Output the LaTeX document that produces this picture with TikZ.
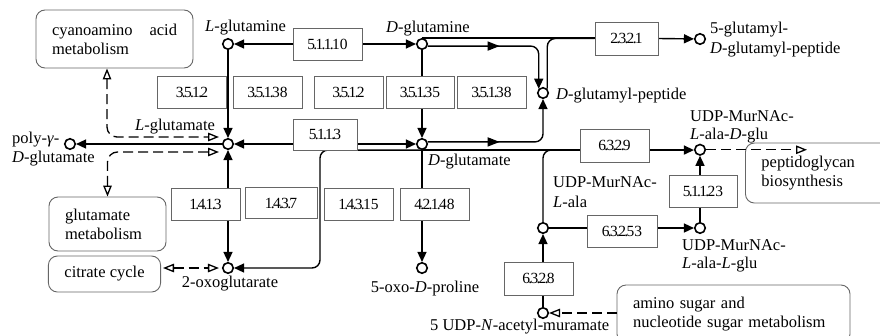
\documentclass[tikz,border=0pt]{standalone}
\usepackage{fontspec}
\setmainfont{Liberation Serif}
\usetikzlibrary{arrows.meta,backgrounds,decorations.markings,calc}
\newcommand\dt{\kern-0.11em.\kern-0.11em}
\begin{document}
\begin{tikzpicture}[x=1pt,y=-1pt,
  >={Triangle[length=10pt,width=9pt]},
  met/.style={circle,draw,line width=1.6pt,minimum size=10.5pt,inner sep=0pt,fill=white},
  ecbox/.style={rectangle,draw=black!60,line width=0.8pt,fill=white,minimum width=69pt,minimum height=32pt,inner sep=0pt,font=\fontsize{15.5}{16}\selectfont},
  pathbox/.style={rectangle,rounded corners=9pt,draw=black!60,line width=0.9pt,fill=white,font=\fontsize{16.5}{19}\selectfont,inner xsep=16pt,inner ysep=0pt},
  lbl/.style={inner sep=0pt,font=\fontsize{16.5}{19}\selectfont},
  conn/.style={line width=1.4pt},
  dsh/.style={line width=1.3pt,dash pattern=on 10pt off 5pt,>={Triangle[open,length=11pt,width=8.5pt]}},
  mida/.style={postaction={decorate,decoration={markings,mark=at position #1 with {\arrow{Triangle[length=12pt,width=9pt]}}}}}
]
\useasboundingbox (0,0) rectangle (880,335);

% metabolites
\node[met] (lgln) at (228,44) {};
\node[met] (dgln) at (422,44) {};
\node[met] (lglu) at (228,144) {};
\node[met] (dglu) at (422,144) {};
\node[met] (dgp) at (543,93) {};
\node[met] (ggp) at (700,39) {};
\node[met] (poly) at (70,144) {};
\node[met] (oxo) at (228,268) {};
\node[met] (oxop) at (422,268) {};
\node[met] (uala) at (543,228) {};
\node[met] (uadg) at (700,149.75) {};
\node[met] (ualg) at (700,228) {};
\node[met] (unam) at (543,313) {};

% metabolite labels
\node[lbl,anchor=base west] (tlgln) at (205,31) {\textit{L}-glutamine};
\node[lbl,anchor=base west] (tdgln) at (386,32) {\textit{D}-glutamine};
\node[lbl,anchor=base west] (tlglu) at (135,130) {\textit{L}-glutamate};
\node[lbl,anchor=base west] (tdglu) at (428,165) {\textit{D}-glutamate};
\node[lbl,anchor=base west] (tdgp) at (556,99) {\textit{D}-glutamyl-peptide};
\node[lbl,anchor=west,align=left,font=\fontsize{16.5}{20}\selectfont] (tggp) at (710,39.2) {5-glutamyl-\\\textit{D}-glutamyl-peptide};
\node[lbl,anchor=west,align=left] (tpoly) at (12,148.7) {poly-\textit{γ}-\\\textit{D}-glutamate};
\node[lbl,anchor=base] (toxo) at (230,287) {2-oxoglutarate};
\node[lbl,anchor=base] (toxop) at (425,292) {5-oxo-\textit{D}-proline};
\node[lbl,anchor=west,align=left,font=\fontsize{16.5}{20}\selectfont] (tuala) at (553,192.5) {UDP-MurNAc-\\\textit{L}-ala};
\node[lbl,anchor=west,align=left,font=\fontsize{16.5}{18}\selectfont] (tuadg) at (690,126.4) {UDP-MurNAc-\\\textit{L}-ala-\textit{D}-glu};
\node[lbl,anchor=west,align=left,font=\fontsize{16.5}{18}\selectfont] (tualg) at (682,255.4) {UDP-MurNAc-\\\textit{L}-ala-\textit{L}-glu};
\node[lbl,anchor=base west] (tunam) at (430,330) {5 UDP-\textit{N}-acetyl-muramate};

% pathway boxes
\node[pathbox,text width=125pt,align=left,minimum width=157pt,minimum height=58pt] (cyano) at (114.5,39) {cyanoamino\hfill acid\\metabolism};
\node[pathbox,text width=85pt,align=left,minimum width=117pt,minimum height=54pt] (glumet) at (107.5,224) {glutamate\\metabolism};
\node[pathbox,minimum width=111pt,minimum height=36pt] (citrate) at (104.5,274) {citrate cycle};
\node[pathbox,anchor=west,text width=118pt,align=left,minimum height=60pt] (pepti) at (745,173) {peptidoglycan\\biosynthesis};
\node[pathbox,text width=201pt,align=left,minimum width=233pt,minimum height=58pt] (amino) at (733.5,314) {amino sugar and\\nucleotide sugar metabolism};

% enzyme boxes
\node[ecbox] (e1) at (327.5,44) {5\dt1\dt1\dt10};
\node[ecbox,minimum width=63pt,minimum height=33pt] (e2) at (626.5,38.5) {2\dt3\dt2\dt1};
\node[ecbox] (e3) at (192,92) {3\dt5\dt1\dt2};
\node[ecbox] (e4) at (267.5,92) {3\dt5\dt1\dt38};
\node[ecbox] (e5) at (348.5,92) {3\dt5\dt1\dt2};
\node[ecbox,minimum width=68pt] (e6) at (420,92) {3\dt5\dt1\dt35};
\node[ecbox] (e7) at (491.5,92) {3\dt5\dt1\dt38};
\node[ecbox,minimum width=64pt,minimum height=31pt] (e8) at (325,134.5) {5\dt1\dt1\dt3};
\node[ecbox] (e9) at (205.5,204) {1\dt4\dt1\dt3};
\node[ecbox,minimum width=72pt,minimum height=31pt] (e10) at (281,203) {1\dt4\dt3\dt7};
\node[ecbox] (e11) at (358.5,204) {1\dt4\dt3\dt15};
\node[ecbox] (e12) at (434.5,204) {4\dt2\dt1\dt48};
\node[ecbox,minimum height=33pt] (e13) at (614.5,145.5) {6\dt3\dt2\dt9};
\node[ecbox,minimum width=68pt] (e14) at (703,191) {5\dt1\dt1\dt23};
\node[ecbox,minimum width=70pt] (e15) at (622,231) {6\dt3\dt2\dt53};
\node[ecbox,minimum height=33pt] (e16) at (538.5,278.5) {6\dt3\dt2\dt8};

\coordinate (xl) at (320,0);
\coordinate (cy) at ($(cyano.south)+(-7.5,0)$);
\coordinate (li1) at (219,137);
\coordinate (li2) at (219,152);
\coordinate (ci) at ($(citrate.east |- oxo)+(2,0)$);
\coordinate (oi) at ($(oxo.west)+(-3,0)$);
\coordinate (pin) at (807,149.75);

% solid connectors behind the boxes
\begin{scope}[on background layer]
\fill[white] (0,0) rectangle (880,335);
\draw[conn,<->] (lgln) -- (dgln);
\draw[conn,<->] (lglu) -- (dglu);
\draw[conn,->] (lgln) -- (lglu);
\draw[conn,->] (dgln) -- (dglu);
\draw[conn,->] (lglu) -- (poly);
\draw[conn,<->] (lglu) -- (oxo);
\draw[conn,->] (dglu) -- (oxop);
\draw[conn] (dgln.north) -- (dgln.north -| e2.west);
\draw[conn,rounded corners=8pt] (dgp.north east) |- (e2.west);
\draw[conn,->] (e2.east) -- (ggp);
\draw[conn,->,rounded corners=8pt,mida=72pt] (dgln.-20) -| (dgp.north west);
\draw[conn,->,rounded corners=8pt,mida=72pt] (dglu.20) -| (dgp.south);
\draw[conn,->,rounded corners=8pt] (dglu.south) -- (dglu.south -| xl) |- (oxo);
\draw[conn,->] (dglu.south) -- (dglu.south -| uadg.west);
\draw[conn,rounded corners=8pt] (uala.north) |- ($(dglu.south -| uala)+(20,0)$);
\draw[conn,->] (unam) -- (uala);
\draw[conn,->] (uala) -- (ualg);
\draw[conn,->] (ualg) -- (uadg);
\end{scope}

% dashed links to pathway maps
\draw[dsh,<->,rounded corners=10pt] (cy) |- (li1);
\draw[dsh,<->,rounded corners=10pt] (glumet.north) |- (li2);
\draw[dsh,<->] (ci) -- (oi);
\draw[dsh,->] (amino.west |- unam) -- (unam);
\draw[dsh,->] (uadg) -- (pin);
\end{tikzpicture}
\end{document}
